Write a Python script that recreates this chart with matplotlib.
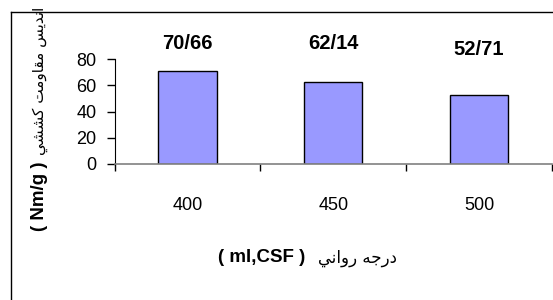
import matplotlib.pyplot as plt
from matplotlib.lines import Line2D

plt.rcParams['font.family'] = ['Liberation Sans', 'DejaVu Sans']

# data
categories = ['400', '450', '500']
values = [70.66, 62.14, 52.71]
yticks = [0, 20, 40, 60, 80]

# Persian words written with presentation forms, in visual (left-to-right) order
# since matplotlib does no Arabic shaping / bidi
w_daraje = '\uFEEA\uFE9F\uFEAD\uFEA9'            # درجه
w_ravani = '\uFEF2\uFEE7\uFE8D\uFEED\uFEAD'      # رواني
w_keshshi = '\uFEF2\uFEB8\uFEB8\uFEDB'           # کششي
w_moghavemat = '\uFE96\uFEE3\uFEED\uFE8E\uFED8\uFEE3'  # مقاومت
w_andis = '\uFEB2\uFEF3\uFEAA\uFEE7\uFE8D'       # اندیس

xlabel_fa = w_ravani + ' ' + w_daraje
ylabel_fa = w_keshshi + ' ' + w_moghavemat + ' ' + w_andis

# label positions (layout only)
label_y = [92, 92, 87.5]

fig = plt.figure(figsize=(5.53, 3.0), dpi=100)
ax = fig.add_axes([114.5 / 553, 1 - 164 / 300, (552 - 114.5) / 553, 105 / 300])

x = range(len(values))
ax.bar(x, values, width=0.4, color='#9999FF', edgecolor='black', linewidth=1)

for i, v in enumerate(values):
    ax.text(i, label_y[i], f'{v:.2f}'.replace('.', '/'), ha='center', va='center',
            fontsize=14.5, fontweight='bold', clip_on=False)

ax.set_xlim(-0.5, 2.5)
ax.set_ylim(0, 80)
ax.set_yticks(yticks)
ax.tick_params(axis='y', direction='out', length=5.8, width=1, pad=7, labelsize=13)

ax.set_xticks([-0.5, 0.5, 1.5, 2.5])
ax.set_xticklabels([])
ax.set_xticks(x, minor=True)
ax.set_xticklabels(categories, minor=True)
ax.tick_params(axis='x', which='major', direction='out', length=5, width=1)
ax.tick_params(axis='x', which='minor', length=0, pad=24, labelsize=13)

for s in ['top', 'right']:
    ax.spines[s].set_visible(False)
ax.spines['left'].set_color('black')
ax.spines['bottom'].set_color('#808080')
ax.spines['bottom'].set_linewidth(1.2)

# x label: bold latin part + persian part
t1 = fig.text(218 / 553, 1 - 258 / 300, '( ml,CSF )', ha='left', va='center',
              fontsize=13.5, fontweight='bold')
ax.annotate(xlabel_fa, xy=(1, 0.5), xycoords=t1, xytext=(9, 0),
            textcoords='offset points', ha='left', va='center', fontsize=12,
            family=['DejaVu Sans'])

# y label: bold latin part at bottom, persian above it
t2 = fig.text(40 / 553, 1 - 231 / 300, '( Nm/g )', ha='center', va='bottom',
              rotation=90, fontsize=13.5, fontweight='bold')
ax.annotate(ylabel_fa, xy=(0.5, 1), xycoords=t2, xytext=(0, 5),
            textcoords='offset points', ha='center', va='bottom', rotation=90,
            fontsize=11, family=['DejaVu Sans'])

# outer frame (only left and top edges fall inside the picture)
fig.add_artist(Line2D([11 / 553, 11 / 553], [0, 1 - 12 / 300], color='black', lw=1,
                      transform=fig.transFigure))
fig.add_artist(Line2D([11 / 553, 1], [1 - 12 / 300, 1 - 12 / 300], color='black', lw=1,
                      transform=fig.transFigure))

fig.savefig('out.png', dpi=100)
